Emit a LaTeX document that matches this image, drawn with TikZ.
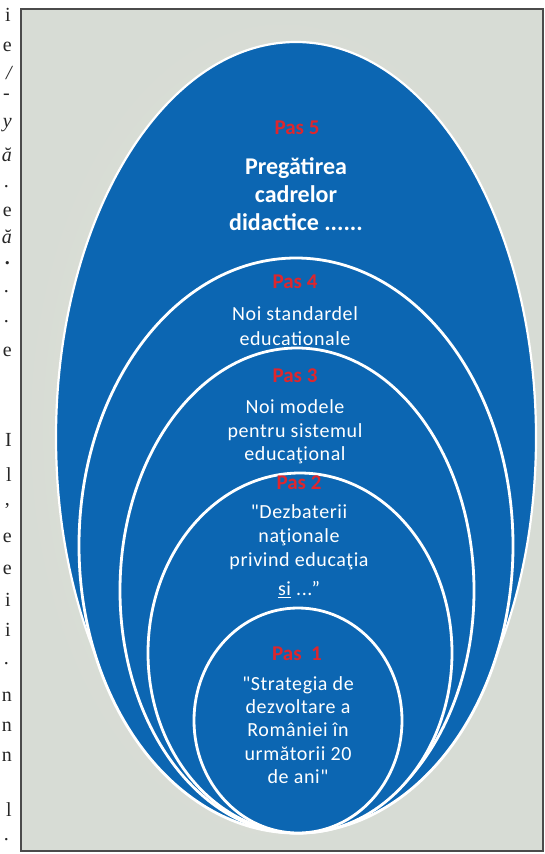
\documentclass[tikz,border=0pt]{standalone}
\usepackage{fontspec}
\setmainfont{Carlito}[Ligatures=TeXOff]
\newfontfamily\bookfont{Liberation Serif}
\definecolor{ellblue}{RGB}{12,102,178}
\definecolor{pasred}{RGB}{222,38,45}
\definecolor{bginner}{RGB}{229,226,211}
\definecolor{bgouter}{RGB}{215,220,213}
\definecolor{framecol}{RGB}{75,75,75}
\begin{document}
\begin{tikzpicture}[x=1pt,y=-1pt,
  ell/.style={fill=ellblue,draw=white,line width=2.8pt},
  pas/.style={text=pasred,font=\fontsize{21}{23}\selectfont\bfseries,inner sep=0pt},
  body/.style={text=white,align=center,font=\fontsize{20}{23.5}\selectfont\addfontfeatures{LetterSpace=3},inner sep=0pt},
  margin/.style={font=\bookfont\fontsize{20}{22}\selectfont,anchor=east,inner sep=0pt,text=black!85}]
\useasboundingbox (0,0) rectangle (545,854);
\fill[white] (0,0) rectangle (545,854);
\shade[inner color=bginner,outer color=bgouter] (21,9) rectangle (543,851);
\draw[framecol,line width=1.5pt] (21,9) rectangle (543,851);
% margin fragments of the book page
\node[margin] (m1) at (11,15) {i};
\node[margin] (m2) at (12,47) {e};
\node[margin] (m3) at (12,73) {\itshape /};
\node[margin] (m4) at (10,97) {-};
\node[margin] (m5) at (12,125) {\itshape y};
\node[margin] (m6) at (12,155) {\itshape ă};
\node[margin] (m7) at (9,187) {.};
\node[margin] (m8) at (12,212) {e};
\node[margin] (m9) at (12,237) {\itshape ă};
\node[margin] (m10) at (10,263) {\textbf{.}};
\node[margin] (m11) at (9,292) {.};
\node[margin] (m12) at (9,322) {.};
\node[margin] (m13) at (12,352) {e};
\node[margin] (m14) at (12,440) {I};
\node[margin] (m15) at (12,475) {l};
\node[margin] (m16) at (10,506) {,};
\node[margin] (m17) at (12,538) {e};
\node[margin] (m18) at (12,570) {e};
\node[margin] (m19) at (11,600) {i};
\node[margin] (m20) at (11,630) {i};
\node[margin] (m21) at (9,664) {.};
\node[margin] (m22) at (12,697) {n};
\node[margin] (m23) at (12,727) {n};
\node[margin] (m24) at (12,757) {n};
\node[margin] (m25) at (12,810) {l};
\node[margin] (m26) at (9,840) {.};
% nested ellipses
\draw[ell,line width=2.2pt] (296,437.5) ellipse [x radius=240pt, y radius=395.5pt];
\draw[ell] (296,545.5) ellipse [x radius=217pt, y radius=287.5pt];
\draw[ell] (297,590.5) ellipse [x radius=177pt, y radius=242.5pt];
\draw[ell] (300,653) ellipse [x radius=152pt, y radius=180pt];
\draw[ell] (298,720.5) ellipse [x radius=104pt, y radius=112.5pt];
% texts
\node[pas] (p5) at (297,128) {Pas 5};
\node[body,font=\fontsize{24}{28}\selectfont\bfseries] (t5) at (296,194) {Pregătirea\\cadrelor\\didactice  ......};
\node[pas] (p4) at (295,282) {Pas 4};
\node[body,font=\fontsize{20}{25}\selectfont\addfontfeatures{LetterSpace=3}] (t4) at (295,326) {Noi standardel\\educationale};
\node[pas] (p3) at (295,376) {Pas 3};
\node[body] (t3) at (295,432) {Noi modele\\pentru sistemul\\educaţional};
\node[pas] (p2) at (299,483) {Pas 2};
\node[body,font=\fontsize{20}{24}\selectfont\addfontfeatures{LetterSpace=3}] (t2) at (299,551) {"Dezbaterii\\naţionale\\privind educaţia\\[5pt]\underline{si} ...”};
\node[pas] (p1) at (297,654) {Pas\ \ 1};
\node[body,font=\fontsize{20}{23.3}\selectfont\addfontfeatures{LetterSpace=3}] (t1) at (298,730) {"Strategia de\\dezvoltare a\\României în\\următorii 20\\de ani"};
\end{tikzpicture}
\end{document}
